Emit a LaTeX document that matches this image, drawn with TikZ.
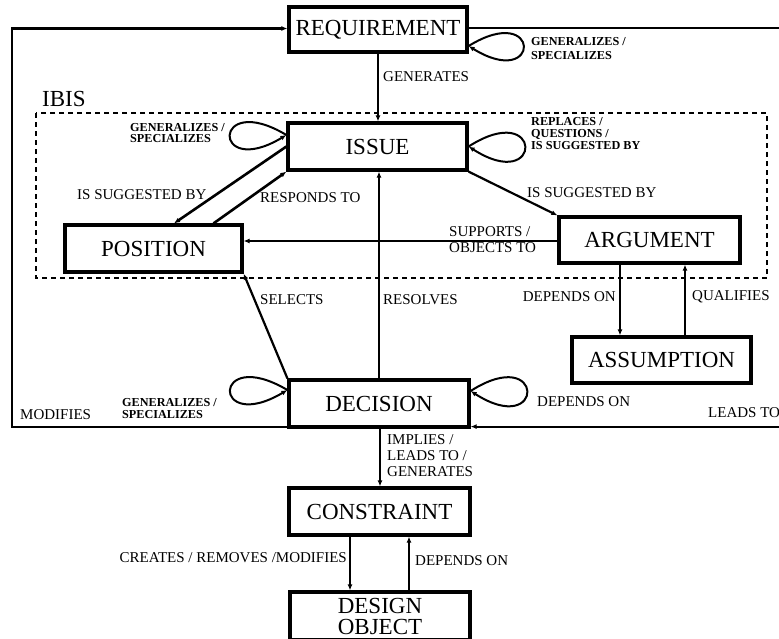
\documentclass[tikz,border=0pt]{standalone}
\usepackage{fontspec}
\setmainfont{Liberation Serif}
\usetikzlibrary{arrows.meta,calc}
\begin{document}
\begin{tikzpicture}[x=1pt,y=-1pt,
  box/.style={draw, line width=3.2pt, inner sep=0pt, align=center,
    font=\fontsize{23}{21}\selectfont},
  lbl/.style={inner sep=0pt, font=\fontsize{15}{16}\selectfont, align=left},
  small/.style={inner sep=0pt, font=\fontsize{12.2}{#1}\selectfont\bfseries, align=left},
  small/.default=14,
  conn/.style={line width=2.2pt},
  heavy/.style={line width=2.6pt},
  mid/.style={line width=1.7pt},
  thin/.style={line width=1.4pt},
  loopline/.style={line width=2pt},
  arr/.style={-{Latex[length=6pt,width=5pt]}}]

\useasboundingbox (0,0) rectangle (779,638);

% IBIS boundary
\draw[line width=1.7pt, dash pattern=on 5pt off 4pt] (36,113) rectangle (767,278);
\node[inner sep=0pt, anchor=west, font=\fontsize{23}{24}\selectfont] (ibis) at (42,99) {IBIS};

% entities
\node[box, minimum width=178pt, minimum height=45pt] (req)    at (378,29.5)  {REQUIREMENT};
\node[box, minimum width=179pt, minimum height=47pt] (issue)  at (377.5,146.5) {ISSUE};
\node[box, minimum width=177pt, minimum height=47pt] (pos)    at (153.5,248.5) {POSITION};
\node[box, minimum width=181pt, minimum height=46pt] (arg)    at (649.5,240) {ARGUMENT};
\node[box, minimum width=179pt, minimum height=46pt] (assume) at (661.5,360) {ASSUMPTION};
\node[box, minimum width=180pt, minimum height=47pt] (dec)    at (379,403.5) {DECISION};
\node[box, minimum width=181pt, minimum height=47pt] (cons)   at (379.5,511.5) {CONSTRAINT};
\node[box, minimum width=180pt, minimum height=48pt] (design) at (380,616) {DESIGN\\OBJECT};

% outer loop corners
\coordinate (lft) at (12,0);
\coordinate (rgt) at (792,0);

% relations
\draw[conn, arr] (req.south) -- (req.south |- issue.north);
\draw[thin, arr] (dec.north) -- (dec.north |- issue.south);
\draw[heavy, arr] (issue.west) -- ([xshift=20.5pt]pos.north);
\draw[heavy, arr] ([xshift=60pt]pos.north) -- (issue.south west);
\draw[conn, arr] (issue.south east) -- (arg.north west);
\draw[mid, arr] ([yshift=-1pt]arg.west) -- ([yshift=-1pt]arg.west -| pos.east);
\draw[conn, arr] (dec.north west) -- (pos.south east);
\draw[heavy, arr] ([xshift=-29.5pt]arg.south) -- ([xshift=-29.5pt]arg.south |- assume.north);
\draw[thin, arr] ([xshift=23.5pt]assume.north) -- ([xshift=23.5pt]assume.north |- arg.south);
\draw[mid, arr] ([xshift=1pt]dec.south) -- ([xshift=1pt]dec.south |- cons.north);
\draw[mid, arr] ([xshift=-29.5pt]cons.south) -- ([xshift=-29.5pt]cons.south |- design.north);
\draw[mid, arr] ([xshift=29pt]design.north) -- ([xshift=29pt]design.north |- cons.south);
\draw[conn, arr] ([yshift=2pt]dec.south west) -- ([yshift=2pt]dec.south west -| lft) |- ([yshift=1pt]req.west);
\draw[conn, arr] ([yshift=1.5pt]req.east) -- ([yshift=1.5pt]req.east -| rgt) |- ([yshift=2pt]dec.south east);

% self relations
\draw[loopline, arr] ([yshift=-16.5pt]req.east) .. controls +(73,-45) and +(73,45) .. ([yshift=-16.5pt]req.east);
\draw[loopline, arr] ([yshift=11.5pt]issue.west) .. controls +(-75,-45) and +(-75,45) .. ([yshift=11.5pt]issue.west);
\draw[loopline, arr] (issue.east) .. controls +(75,-48) and +(75,48) .. (issue.east);
\draw[loopline, arr] ([yshift=13.5pt]dec.west) .. controls +(-76,-45) and +(-76,45) .. ([yshift=13.5pt]dec.west);
\draw[loopline, arr] ([yshift=12.5pt]dec.east) .. controls +(75,-48) and +(75,48) .. ([yshift=12.5pt]dec.east);

% relation labels
\node[lbl, anchor=west] (lgen)  at (383,77)  {GENERATES};
\node[lbl, anchor=west] (lsug1) at (77,195)  {IS SUGGESTED BY};
\node[lbl, anchor=west] (lresp) at (260,198) {RESPONDS TO};
\node[lbl, anchor=west] (lsug2) at (527,193) {IS SUGGESTED BY};
\node[lbl, anchor=west] (lsup)  at (449,240) {SUPPORTS /\\OBJECTS TO};
\node[lbl, anchor=west] (lsel)  at (260,300) {SELECTS};
\node[lbl, anchor=west] (lres)  at (383,300) {RESOLVES};
\node[lbl, anchor=east] (ldep1) at (616,297) {DEPENDS ON};
\node[lbl, anchor=west] (lqual) at (692,297) {QUALIFIES};
\node[lbl, anchor=west] (ldep2) at (537,402) {DEPENDS ON};
\node[lbl, anchor=west] (llead) at (708,413) {LEADS TO};
\node[lbl, anchor=west] (lmod)  at (20,415)  {MODIFIES};
\node[lbl, anchor=west] (limp)  at (387,456) {IMPLIES /\\LEADS TO /\\GENERATES};
\node[lbl, anchor=east] (lcre)  at (347,558) {CREATES / REMOVES /MODIFIES};
\node[lbl, anchor=west] (ldep3) at (415,561) {DEPENDS ON};

% self relation labels
\node[small=14, anchor=west] (lgs1) at (531,49)  {GENERALIZES /\\SPECIALIZES};
\node[small=11.5, anchor=west] (lgs2) at (130,133) {GENERALIZES /\\SPECIALIZES};
\node[small=12, anchor=west] (lrep) at (531,134) {REPLACES /\\QUESTIONS /\\IS SUGGESTED BY};
\node[small=12, anchor=west] (lgs3) at (122,409) {GENERALIZES /\\SPECIALIZES};

\end{tikzpicture}
\end{document}
